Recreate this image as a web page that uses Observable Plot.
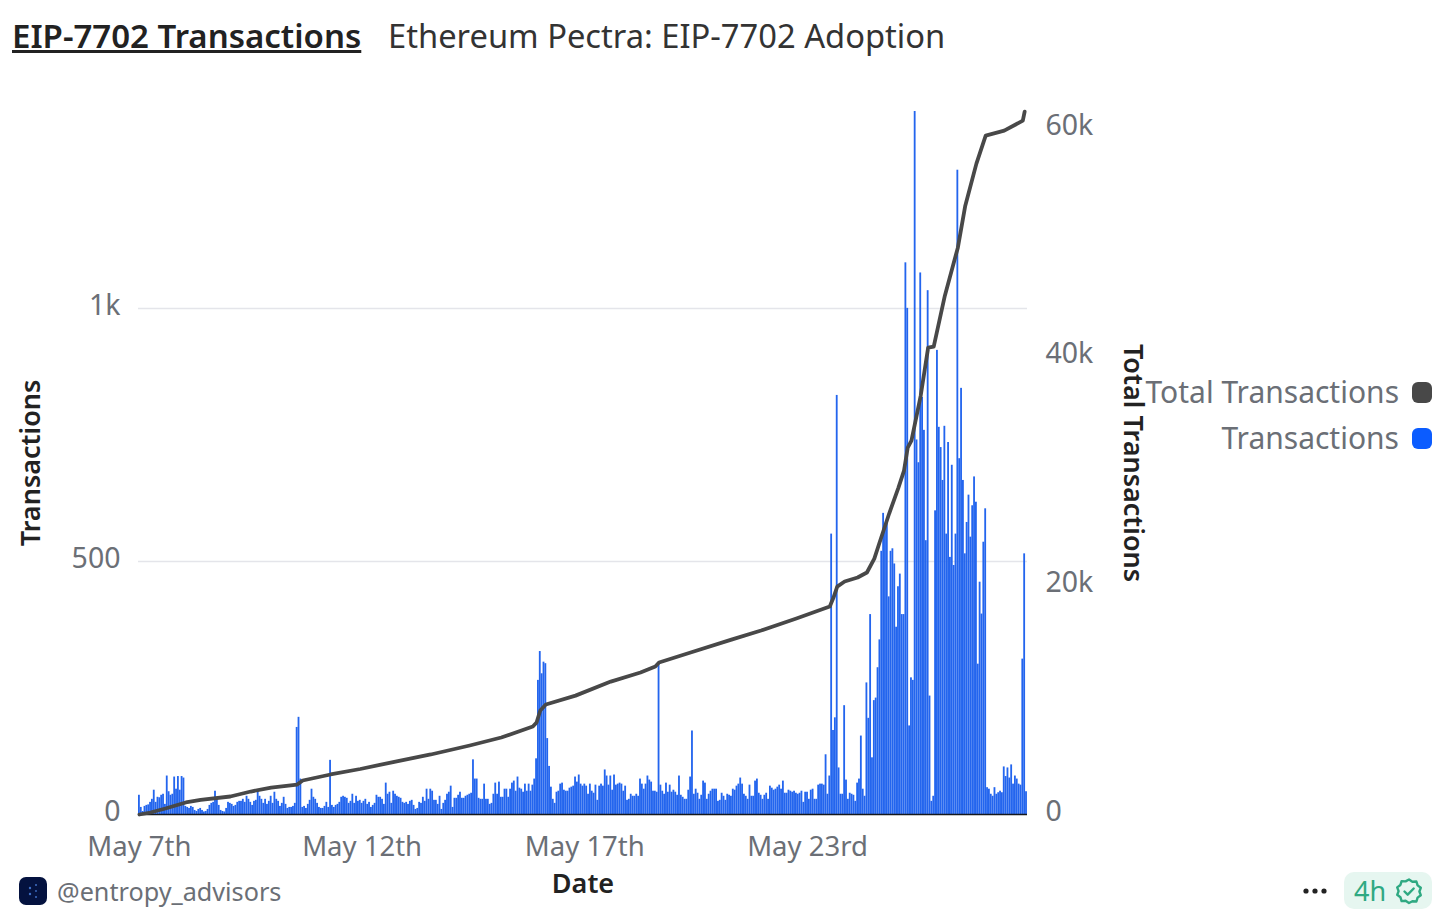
<!DOCTYPE html>
<html>
<head>
<meta charset="utf-8">
<script src="https://cdn.jsdelivr.net/npm/d3@7"></script>
<script src="https://cdn.jsdelivr.net/npm/@observablehq/plot@0.6"></script>
<style>
html,body{margin:0;padding:0;background:#fff;width:1445px;height:918px;overflow:hidden;font-family:"Noto Sans",sans-serif}
#chart{position:absolute;left:0;top:80px}
.abs{position:absolute;white-space:nowrap}
#t1{left:12px;top:14px;font-size:33px;font-weight:600;color:#222;text-decoration:underline;line-height:44px}
#t2{left:388px;top:14px;font-size:32.7px;color:#333;line-height:44px}
.lg{right:46px;font-size:30px;color:#6b6f76;line-height:40px}
.sw{left:1412px;width:20px;height:21px;border-radius:6px}
#brand{left:57px;top:873px;font-size:25.2px;color:#6b6f76;line-height:36px}
#logo{left:19px;top:877px;width:28px;height:28px}
#dots{left:1303px;top:888px;width:24px;height:6px}
#pill{left:1344px;top:872px;width:88px;height:37px;border-radius:10px;background:#e6f6f0}
#age{left:1354px;top:872px;font-size:27px;line-height:37px;color:#2fa982}
#badge{left:1395px;top:877px;width:28px;height:28px}
</style>
</head>
<body>
<div id="t1" class="abs">EIP-7702 Transactions</div>
<div id="t2" class="abs">Ethereum Pectra: EIP-7702 Adoption</div>
<div id="chart"></div>
<div class="abs lg" style="top:372px">Total Transactions</div>
<div class="abs sw" style="top:382px;background:#484848"></div>
<div class="abs lg" style="top:418px">Transactions</div>
<div class="abs sw" style="top:428px;background:#0b5cff"></div>
<svg id="logo" class="abs" viewBox="0 0 28 28"><rect width="28" height="28" rx="7" fill="#04123f"/><circle cx="11" cy="11" r="1.2" fill="#3f6fc4"/><circle cx="17" cy="8" r="1" fill="#3f6fc4"/><circle cx="11" cy="17" r="1.2" fill="#3f6fc4"/><circle cx="17" cy="20" r="1" fill="#3f6fc4"/><circle cx="17" cy="14" r="0.9" fill="#3f6fc4"/></svg>
<div id="brand" class="abs">@entropy_advisors</div>
<svg id="dots" class="abs" viewBox="0 0 24 6"><circle cx="3" cy="3" r="2.6" fill="#222"/><circle cx="12" cy="3" r="2.6" fill="#222"/><circle cx="21" cy="3" r="2.6" fill="#222"/></svg>
<div id="pill" class="abs"></div>
<div id="age" class="abs">4h</div>
<svg id="badge" class="abs" viewBox="0 0 28 28" fill="none" stroke="#2fa982" stroke-width="2.4" stroke-linejoin="round" stroke-linecap="round"><path d="M14 2.5l3.4 2.3 4-.3 1.2 3.9 3.2 2.4-1.4 3.7 1.4 3.7-3.2 2.4-1.2 3.9-4-.3L14 26l-3.4-2.2-4 .3-1.2-3.9-3.2-2.4 1.4-3.7-1.4-3.7 3.2-2.4 1.2-3.9 4 .3z"/><path d="M9.5 14.5l3.2 3.2 6-6.2"/></svg>
<script>
// Hourly transactions, one array per date-label interval
const barsMay07 = [
  38,14,6,16,18,19,24,30,48,24,
  34,33,38,40,20,76,45,38,40,74,
  50,75,48,75,72,16,14,12,16,14,
  8,6,10,12,8,5,6,10,18,22,
  24,46,30,18,8,6,5,12,24,22,
  20,16,18,24,26,26,30,24,36,30,
  24,18,26,28,48,36,30,22,30,20,
  26,36,22,44,30,26,16,22,34,20,
  12,14,14,16,22,172,192,70,14,16,
  12,20,28,50,34,30,22,14,12,12,
  16,24,14,107,18,14,18,20,24,34,
  36,34,32,22,26,40,22,36,26,28
];
const barsMay12 = [
  22,26,30,20,24,14,18,22,38,34,
  34,30,20,62,40,44,22,46,40,36,
  34,32,24,22,24,20,26,28,18,10,
  12,24,22,34,26,50,30,50,46,28,
  28,20,36,10,22,28,40,44,56,14,
  32,32,38,44,32,32,36,38,40,42,
  108,70,70,32,30,30,60,30,30,20,
  22,40,62,40,64,34,34,50,50,34,
  50,62,66,46,74,52,50,44,60,46,
  60,46,58,70,110,265,322,278,301,298,
  150,95,54,30,22,44,46,60,62,48,
  46,46,52,54,56,74,64,78,60,56
];
const barsMay17 = [
  60,56,40,60,46,42,58,28,56,60,
  56,88,76,58,76,48,78,58,60,62,
  60,46,56,28,30,40,36,36,40,36,
  70,60,50,60,76,68,64,46,46,44,
  300,58,46,40,62,44,58,44,48,44,
  38,76,38,34,30,30,48,74,165,40,
  50,42,30,38,66,62,30,40,46,50,
  50,50,26,28,42,36,28,40,38,36,
  50,48,56,60,72,60,40,36,30,58,
  36,36,66,70,42,38,30,38,42,30,
  56,52,48,50,54,58,50,66,42,42,
  48,46,44,46,42,40,42,46,24,44
];
const barsMay23 = [
  44,30,48,50,30,30,58,60,60,58,
  118,40,76,554,166,191,828,92,40,40,
  215,68,30,42,40,38,26,62,70,155,
  50,36,260,190,395,112,225,230,290,345,
  520,595,575,575,430,520,525,495,370,450,
  475,395,395,1090,1000,175,270,265,1389,740,
  695,1070,824,759,541,1035,234,26,36,600,
  917,765,725,660,767,554,735,508,690,492,
  554,1273,703,842,660,515,577,631,548,610,
  667,617,297,459,396,538,604,53,50,40,
  36,53,40,43,46,43,94,75,92,72,
  98,60,76,70,60,58,307,515,45
];
const hourlyTx = [...barsMay07, ...barsMay12, ...barsMay17, ...barsMay23];

// Cumulative total, read at the hour indices listed alongside
const totalHours = [0,6,14,25,33,49,60,71,85,88,103,119,138,157,178,195,212,214,216,219,235,254,270,278,280,297,319,335,354,372,374,376,380,387,392,396,399,404,409,412,414,416,421,425,428,434,441,445,451,456,466,476,477];
const totalValues = [0,175,525,1050,1270,1575,2010,2360,2620,2975,3500,3980,4635,5250,6035,6735,7700,8050,9100,9620,10400,11630,12420,12950,13300,14170,15300,16100,17140,18190,18980,19940,20380,20730,21170,22390,23880,26330,28600,30090,32100,32700,36650,40840,40930,45390,49590,53260,56940,59390,59820,60700,61480];

const dateTicks = [0,120,240,360];
const dateLabels = ["May 7th","May 12th","May 17th","May 23rd"];
const leftTicks = [0,500,1000];
const rightTicks = [0,20000,40000,60000];
const yMax = 1389, totalMax = 61500;
const toLeft = yMax / totalMax;
const fmtK = v => v === 0 ? "0" : (v >= 1000 ? (v/1000) + "k" : String(v));

const bars = hourlyTx.map((v,i) => ({hour:i, v}));
const total = totalHours.map((h,i) => ({hour:h, v:totalValues[i]*toLeft}));
const font = "'Noto Sans',sans-serif";

const chart = Plot.plot({
  width:1445, height:826,
  marginLeft:138, marginRight:418, marginTop:31, marginBottom:92,
  style:{fontFamily:font, background:"transparent"},
  x:{type:"band", domain:d3.range(hourlyTx.length), padding:0.02, align:0},
  y:{domain:[0,yMax]},
  marks:[
    Plot.gridY(leftTicks.slice(1), {stroke:"#e4e5ea", strokeOpacity:1, strokeWidth:1.5}),
    Plot.barY(bars, {x:"hour", y:"v", fill:"#2365ee"}),
    Plot.ruleY([0], {stroke:"#16181d", strokeWidth:1.5}),
    Plot.line(total, {x:"hour", y:"v", stroke:"#484848", strokeWidth:3.8, curve:"linear"}),
    Plot.axisX({ticks:dateTicks, tickSize:0, tickPadding:22, tickFormat:i=>dateLabels[dateTicks.indexOf(i)],
      fontSize:27.5, fill:"#6b6f76", label:null}),
    Plot.axisY({anchor:"left", ticks:leftTicks, tickSize:0, tickPadding:18, tickFormat:fmtK, dy:-3,
      fontSize:28.5, fill:"#6b6f76", label:null}),
    Plot.axisY({anchor:"right", ticks:rightTicks.map(v=>v*toLeft), tickSize:0, tickPadding:18,
      tickFormat:v=>fmtK(Math.round(v/toLeft)), dy:-3, fontSize:28.5, fill:"#6b6f76", label:null}),
    Plot.text(["Date"], {frameAnchor:"bottom", dy:78, fontSize:27, fontWeight:600, fill:"#222"}),
    Plot.text(["Transactions"], {frameAnchor:"left", dx:-107, rotate:-90, textAnchor:"middle", fontSize:27, fontWeight:600, fill:"#222"}),
    Plot.text(["Total Transactions"], {frameAnchor:"right", dx:105, rotate:90, textAnchor:"middle", fontSize:27, fontWeight:600, fill:"#222"})
  ]
});
document.getElementById("chart").appendChild(chart);
</script>
</body>
</html>
